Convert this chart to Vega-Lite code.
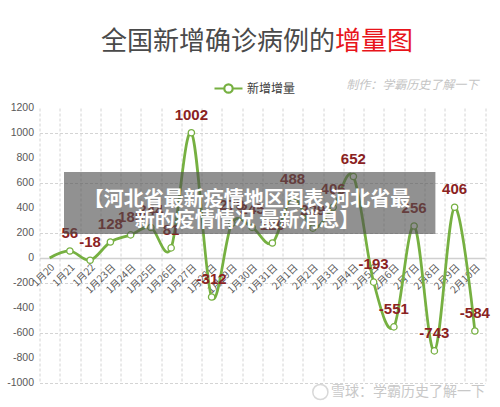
{
  "$schema": "https://vega.github.io/schema/vega-lite/v6.json",
  "width": 445.5,
  "height": 275,
  "autosize": {"type": "none"},
  "padding": {"left": 39.5, "top": 108, "right": 15, "bottom": 24},
  "background": "white",
  "config": {
    "view": {"stroke": null},
    "axis": {"labelFont": "Liberation Sans"}
  },
  "data": {
    "values": [
      {"day": "1月20", "v": 0},
      {"day": "1月21", "v": 56},
      {"day": "1月22", "v": -18},
      {"day": "1月23日", "v": 128},
      {"day": "1月24日", "v": 185},
      {"day": "1月25日", "v": 244},
      {"day": "1月26日", "v": 81},
      {"day": "1月27日", "v": 1002},
      {"day": "1月28日", "v": -312},
      {"day": "1月29日", "v": 278},
      {"day": "1月30日", "v": 245},
      {"day": "1月31日", "v": 120},
      {"day": "2月1日", "v": 488},
      {"day": "2月2日", "v": 239},
      {"day": "2月3日", "v": 406},
      {"day": "2月4日", "v": 652},
      {"day": "2月5日", "v": -193},
      {"day": "2月6日", "v": -551},
      {"day": "2月7日", "v": 256},
      {"day": "2月8日", "v": -743},
      {"day": "2月9日", "v": 406},
      {"day": "2月10日", "v": -584}
    ]
  },
  "layer": [
    {
      "layer": [
        {
          "mark": {"type": "line", "interpolate": "cardinal", "strokeWidth": 2.75},
          "encoding": {
            "x": {
              "field": "day", "type": "ordinal", "sort": null,
              "scale": {"type": "band", "paddingInner": 0, "paddingOuter": 0},
              "axis": {"orient": "bottom", "grid": true, "gridDash": [3, 2], "gridColor": "#d4d4d4", "gridWidth": 1,
                       "tickBand": "extent", "labels": false, "ticks": false, "domain": false, "title": null}
            },
            "y": {
              "field": "v", "type": "quantitative",
              "scale": {"domain": [-1000, 1200], "nice": false, "zero": false},
              "axis": {"values": [-1000, -800, -600, -400, -200, 0, 200, 400, 600, 800, 1000, 1200],
                       "labels": false, "grid": true, "gridDash": [3, 2], "gridColor": "#d4d4d4",
                       "domain": false, "ticks": false, "title": null}
            },
            "color": {
              "datum": "新增增量",
              "scale": {"range": ["#76b041"]},
              "legend": {
                "orient": "none", "legendX": 173.5, "legendY": -35, "title": null,
                "symbolType": "M-1,0H-0.3M0.3,0H1M-0.3,0A0.3,0.3,0,1,1,0.3,0A0.3,0.3,0,1,1,-0.3,0Z",
                "symbolSize": 784, "symbolStrokeWidth": 2.2, "symbolFillColor": "white", "symbolStrokeColor": "#76b041",
                "labelFont": "Noto Sans CJK SC", "labelFontSize": 12, "labelColor": "#404040", "labelOffset": 3
              }
            }
          }
        },
        {
          "mark": {"type": "point", "shape": "circle", "filled": true, "fill": "white", "stroke": "#76b041", "strokeWidth": 1.3, "size": 40},
          "encoding": {
            "x": {
              "field": "day", "type": "ordinal", "sort": null,
              "scale": {"type": "band", "paddingInner": 0, "paddingOuter": 0},
              "axis": {"orient": "bottom", "grid": false, "offset": -125, "labelAngle": -45, "labelFont": "Noto Sans CJK SC", "labelFontSize": 10,
                       "labelOverlap": false,
                       "labelColor": "#595959", "labelPadding": 4, "ticks": false, "domain": true, "domainColor": "#d0d0d0",
                       "domainWidth": 1.5, "title": null}
            },
            "y": {"field": "v", "type": "quantitative"},
            "opacity": {"condition": {"test": "datum.day === '1月20'", "value": 0}, "value": 1}
          }
        },
        {
          "mark": {"type": "text", "font": "Liberation Sans", "fontSize": 15, "fontWeight": "bold", "color": "#8a2222", "dy": -18, "baseline": "middle"},
          "encoding": {
            "x": {"field": "day", "type": "ordinal", "sort": null, "scale": {"type": "band", "paddingInner": 0, "paddingOuter": 0}, "axis": null},
            "y": {"field": "v", "type": "quantitative"},
            "text": {"condition": {"test": "datum.day === '1月20'", "value": ""}, "field": "v", "type": "nominal"}
          }
        }
      ],
      "resolve": {"axis": {"x": "independent"}}
    },
    {
      "data": {"values": [{}]},
      "layer": [
        {
          "mark": {"type": "rect", "fill": "#4d4d4d", "opacity": 0.62},
          "encoding": {
            "x": {"datum": 1.21, "type": "quantitative", "scale": {"domain": [0, 22], "nice": false, "zero": false}, "axis": null},
            "x2": {"datum": 19.55},
            "y": {"datum": 688, "type": "quantitative", "scale": {"domain": [-1000, 1200], "nice": false, "zero": false}, "axis": null},
            "y2": {"datum": 192}
          }
        },
        {
          "data": {"values": [{"t": -1000}, {"t": -800}, {"t": -600}, {"t": -400}, {"t": -200}, {"t": 0},
                              {"t": 200}, {"t": 400}, {"t": 600}, {"t": 800}, {"t": 1000}, {"t": 1200}]},
          "mark": {"type": "text", "font": "Liberation Sans", "fontSize": 10.5, "color": "#595959", "align": "right", "baseline": "middle"},
          "encoding": {
            "x": {"datum": -0.27, "type": "quantitative", "axis": null},
            "y": {"field": "t", "type": "quantitative", "axis": null},
            "text": {"field": "t", "type": "nominal"}
          }
        },
        {
          "mark": {"type": "text", "text": ["【河北省最新疫情地区图表,河北省最", "新的疫情情况 最新消息】"],
                   "font": "Noto Sans CJK SC", "fontSize": 20, "fontWeight": "bold", "lineHeight": 21,
                   "color": "white", "align": "center", "baseline": "middle"},
          "encoding": {
            "x": {"datum": 10.25, "type": "quantitative", "axis": null},
            "y": {"datum": 464, "type": "quantitative", "axis": null}
          }
        },
        {
          "mark": {"type": "text", "text": "全国新增确诊病例的", "font": "Noto Sans CJK SC", "fontSize": 26,
                   "color": "#4a4a4a", "align": "right", "baseline": "middle"},
          "encoding": {
            "x": {"datum": 14.59, "type": "quantitative", "axis": null},
            "y": {"datum": 1728, "type": "quantitative", "axis": null}
          }
        },
        {
          "mark": {"type": "text", "text": "增量图", "font": "Noto Sans CJK SC", "fontSize": 26,
                   "color": "#e8141b", "align": "left", "baseline": "middle"},
          "encoding": {
            "x": {"datum": 14.59, "type": "quantitative", "axis": null},
            "y": {"datum": 1728, "type": "quantitative", "axis": null}
          }
        },
        {
          "mark": {"type": "text", "text": "制作：学霸历史了解一下", "font": "Noto Sans CJK SC", "fontSize": 12,
                   "fontStyle": "italic", "color": "#c4c4c4", "align": "right", "baseline": "middle"},
          "encoding": {
            "x": {"datum": 21.67, "type": "quantitative", "axis": null},
            "y": {"datum": 1384, "type": "quantitative", "axis": null}
          }
        },
        {
          "mark": {"type": "text", "text": "雪球：学霸历史了解一下", "font": "Noto Sans CJK SC", "fontSize": 14,
                   "color": "#c8c8c8", "align": "right", "baseline": "middle"},
          "encoding": {
            "x": {"datum": 22, "type": "quantitative", "axis": null},
            "y": {"datum": -1072, "type": "quantitative", "axis": null}
          }
        },
        {
          "mark": {"type": "point", "shape": "circle", "filled": false, "stroke": "#c8c8c8", "strokeWidth": 1.5, "size": 230},
          "encoding": {
            "x": {"datum": 13.87, "type": "quantitative", "axis": null},
            "y": {"datum": -1072, "type": "quantitative", "axis": null}
          }
        }
      ]
    }
  ],
  "resolve": {"scale": {"x": "independent", "y": "independent"}, "axis": {"x": "independent", "y": "independent"}}
}
